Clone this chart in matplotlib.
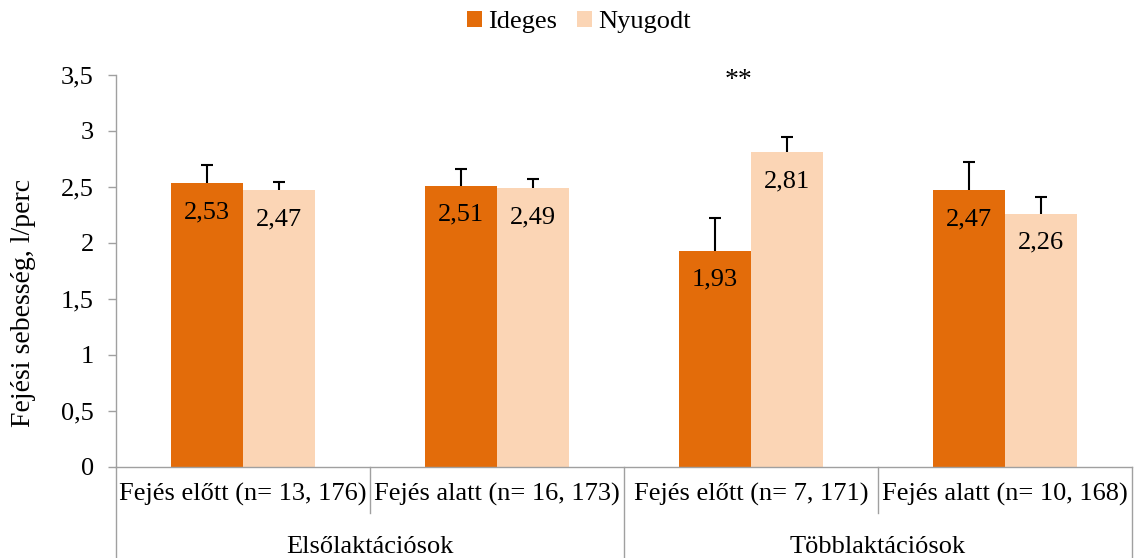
import numpy as np
import matplotlib
matplotlib.use("Agg")
import matplotlib.pyplot as plt

# Data
categories = ["Fejés előtt (n= 13, 176)", "Fejés alatt (n= 16, 173)",
              "Fejés előtt (n= 7, 171)", "Fejés alatt (n= 10, 168)"]
groups = ["Elsőlaktációsok", "Többlaktációsok"]
ideges = [2.53, 2.51, 1.93, 2.47]
nyugodt = [2.47, 2.49, 2.81, 2.26]
ideges_err = [0.16, 0.15, 0.29, 0.25]
nyugodt_err = [0.07, 0.08, 0.13, 0.15]
yticks = [0, 0.5, 1, 1.5, 2, 2.5, 3, 3.5]
ytick_labels = ["0", "0,5", "1", "1,5", "2", "2,5", "3", "3,5"]

plt.rcParams['font.family'] = ['Liberation Serif', 'DejaVu Serif']
FS = 19
GRAY = '#a0a0a0'
C_IDEGES = '#E36C0A'
C_NYUGODT = '#FBD5B5'

fig = plt.figure(figsize=(11.38, 5.58), dpi=100)
ax = fig.add_axes([116 / 1138, 1 - 466.7 / 558, (1132 - 116) / 1138, 392 / 558])

x = np.arange(len(categories))
w = 0.285
b1 = ax.bar(x - w / 2, ideges, w, color=C_IDEGES, label="Ideges", zorder=2)
b2 = ax.bar(x + w / 2, nyugodt, w, color=C_NYUGODT, label="Nyugodt", zorder=2)

# only the upper half of the error bars is shown
for xs, vals, errs in ((x - w / 2, ideges, ideges_err), (x + w / 2, nyugodt, nyugodt_err)):
    eb = ax.errorbar(xs, vals, yerr=[np.zeros(len(vals)), errs], fmt='none',
                     ecolor='black', elinewidth=1.5, capsize=4, capthick=1.5, zorder=1)
    eb[1][0].set_visible(False)  # lower caps

def fmt(v):
    return f"{v:.2f}".replace(".", ",")

for bars, vals in ((b1, ideges), (b2, nyugodt)):
    for rect, v in zip(bars, vals):
        ax.annotate(fmt(v), (rect.get_x() + rect.get_width() / 2, v),
                    xytext=(0, -21), textcoords='offset points',
                    ha='center', va='center', fontsize=FS, zorder=3)

ax.text(1.95, 3.45, "**", ha='center', va='center', fontsize=FS + 1)

ax.set_xlim(-0.5, 3.5)
ax.set_ylim(0, 3.5)
ax.set_yticks(yticks)
ax.set_yticklabels(ytick_labels, fontsize=FS)
ax.set_xticks([])
ax.tick_params(axis='y', length=6, width=1, color=GRAY, pad=10)
for s in ('top', 'right'):
    ax.spines[s].set_visible(False)
for s in ('left', 'bottom'):
    ax.spines[s].set_color(GRAY)
    ax.spines[s].set_linewidth(1)

# multi-level category axis
trans = ax.get_xaxis_transform()
for xv, low in ((-0.5, -0.235), (0.5, -0.118), (1.5, -0.235), (2.5, -0.118), (3.5, -0.235)):
    ax.plot([xv, xv], [0, low], transform=trans, color=GRAY, lw=1, clip_on=False)
for xv, lab in zip(x, categories):
    ax.text(xv, -0.072, lab, transform=trans, ha='center', va='center', fontsize=FS)
for i, lab in enumerate(groups):
    ax.text(2 * i + 0.5, -0.205, lab, transform=trans, ha='center', va='center', fontsize=FS)

fig.text(24 / 1138, 1 - 303 / 558, "Fejési sebesség, l/perc", rotation=90,
         ha='center', va='center', fontsize=FS + 1)

fig.legend(handles=[b1, b2], loc='center', bbox_to_anchor=(579 / 1138, 1 - 22 / 558),
           ncol=2, frameon=False, fontsize=FS, handlelength=0.55, handleheight=0.55,
           handletextpad=0.25, columnspacing=0.75, borderpad=0)

fig.savefig("out.png", dpi=100)
